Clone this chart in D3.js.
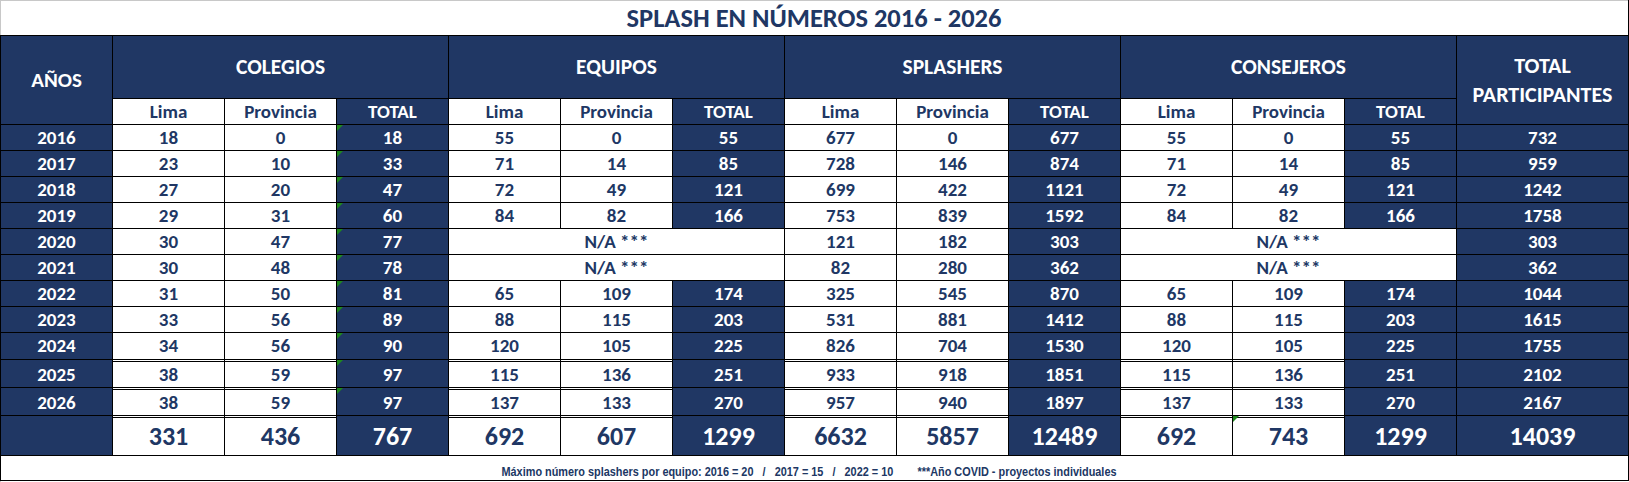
<!DOCTYPE html>
<html>
<head>
<meta charset="utf-8">
<script src="https://cdn.jsdelivr.net/npm/d3@7"></script>
<style>
  body { margin: 0; background: #fff; }
  svg { display: block; }
  text { font-family: Carlito, Lato, sans-serif; font-weight: 700; }
  .note { font-family: "Liberation Sans Narrow", "Arial Narrow", "Liberation Sans", sans-serif; }
</style>
</head>
<body>
<div id="chart"></div>
<script>
// table values
const years = [2016, 2017, 2018, 2019, 2020, 2021, 2022, 2023, 2024, 2025, 2026]
const groups = ["COLEGIOS", "EQUIPOS", "SPLASHERS", "CONSEJEROS"]
const subHeads = ["Lima", "Provincia", "TOTAL"]

const colegiosLima  = [18, 23, 27, 29, 30, 30, 31, 33, 34, 38, 38]
const colegiosProv  = [0, 10, 20, 31, 47, 48, 50, 56, 56, 59, 59]
const colegiosTotal = [18, 33, 47, 60, 77, 78, 81, 89, 90, 97, 97]

const equiposLima  = [55, 71, 72, 84, null, null, 65, 88, 120, 115, 137]
const equiposProv  = [0, 14, 49, 82, null, null, 109, 115, 105, 136, 133]
const equiposTotal = [55, 85, 121, 166, null, null, 174, 203, 225, 251, 270]

const splashersLima  = [677, 728, 699, 753, 121, 82, 325, 531, 826, 933, 957]
const splashersProv  = [0, 146, 422, 839, 182, 280, 545, 881, 704, 918, 940]
const splashersTotal = [677, 874, 1121, 1592, 303, 362, 870, 1412, 1530, 1851, 1897]

const consejerosLima  = [55, 71, 72, 84, null, null, 65, 88, 120, 115, 137]
const consejerosProv  = [0, 14, 49, 82, null, null, 109, 115, 105, 136, 133]
const consejerosTotal = [55, 85, 121, 166, null, null, 174, 203, 225, 251, 270]

const totalParticipantes = [732, 959, 1242, 1758, 303, 362, 1044, 1615, 1755, 2102, 2167]

// bottom row as printed in the sheet
const sumRow = [331, 436, 767, 692, 607, 1299, 6632, 5857, 12489, 692, 743, 1299]
const sumParticipantes = 14039

const naLabel = "N/A ***"
const title = "SPLASH EN NÚMEROS 2016 - 2026"
const note = "Máximo número splashers por equipo: 2016 = 20   /   2017 = 15   /   2022 = 10        ***Año COVID - proyectos individuales"

const series = [
  [colegiosLima, colegiosProv, colegiosTotal],
  [equiposLima, equiposProv, equiposTotal],
  [splashersLima, splashersProv, splashersTotal],
  [consejerosLima, consejerosProv, consejerosTotal]
]

const W = 1629, H = 482
const navy = "#203764"
const flag = "#1e8a1e"

const svg = d3.select("#chart").append("svg")
    .attr("width", W)
    .attr("height", H)

// columns: 0 = AÑOS, 1..12 = data, then the wide total column
const x = d3.scaleBand().domain(d3.range(13)).range([0, 1456])
const xr = c => x(c) + x.bandwidth()
const xEnd = 1628
const yRow = d3.scaleLinear().domain([0, years.length]).range([124, 124 + 26 * years.length])
// the last rows have double top borders, so they sit a little lower
const rowTop = i => yRow(i) + (i >= 9 ? 1 + 2 * (i - 9) : 0)
const sumTop = rowTop(years.length), sumBottom = 455, noteBottom = 481

const fsHead = 21.5, fsSub = 19, fsData = 19, fsSum = 26

let cells = []
function cell(x0, x1, y0, y1, dark, label, size, dbl) {
  cells.push({x0, x1, y0, y1, dark, label, size: size || fsData, dbl})
}

// header
cell(x(0), xr(0), 35, 124, true, "AÑOS", 21)
groups.forEach((g, gi) => {
  cell(x(1 + gi * 3), xr(3 + gi * 3), 35, 98, true, g, fsHead)
  subHeads.forEach((s, si) => {
    let c = 1 + gi * 3 + si
    cell(x(c), xr(c), 98, 124, si == 2, s, fsSub)
  })
})
cell(1456, xEnd, 35, 124, true, null)

// body
years.forEach((yr, i) => {
  let y0 = rowTop(i), y1 = rowTop(i + 1), dbl = i >= 9
  cell(x(0), xr(0), y0, y1, true, yr, fsData, dbl)
  series.forEach((grp, gi) => {
    if (grp[0][i] == null) {
      cell(x(1 + gi * 3), xr(3 + gi * 3), y0, y1, false, naLabel, fsData, dbl)
      return
    }
    grp.forEach((vals, si) => {
      let c = 1 + gi * 3 + si
      cell(x(c), xr(c), y0, y1, si == 2, vals[i], fsData, dbl)
    })
  })
  cell(1456, xEnd, y0, y1, true, totalParticipantes[i], fsData, dbl)
})

// totals row
cell(x(0), xr(0), sumTop, sumBottom, true, null, fsSum, true)
sumRow.forEach((v, k) => {
  let c = k + 1
  cell(x(c), xr(c), sumTop, sumBottom, k % 3 == 2, v, fsSum, true)
})
cell(1456, xEnd, sumTop, sumBottom, true, sumParticipantes, fsSum, true)

// outer frame + title
svg.append("rect")
    .attr("x", 0).attr("y", 0).attr("width", W).attr("height", H)
    .attr("fill", "#fff")
svg.append("line")
    .attr("x1", 0).attr("x2", W).attr("y1", 0.5).attr("y2", 0.5)
    .attr("stroke", "#c8c8c8")
svg.append("line")
    .attr("x1", 0.5).attr("x2", 0.5).attr("y1", 0).attr("y2", H)
    .attr("stroke", "#c8c8c8")
svg.append("line")
    .attr("x1", xEnd + 0.5).attr("x2", xEnd + 0.5).attr("y1", 0).attr("y2", 35)
    .attr("stroke", "#000")
svg.append("text")
    .attr("x", xEnd / 2).attr("y", 27)
    .attr("text-anchor", "middle")
    .attr("font-size", 26.5)
    .attr("fill", navy)
    .text(title)

let g = svg.append("g").attr("shape-rendering", "crispEdges")

g.selectAll("rect.cell")
  .data(cells)
  .join("rect")
    .attr("class", "cell")
    .attr("x", d => d.x0 + 0.5)
    .attr("y", d => d.y0 + 0.5)
    .attr("width", d => d.x1 - d.x0)
    .attr("height", d => d.y1 - d.y0)
    .attr("fill", d => d.dark ? navy : "#fff")
    .attr("stroke", "#000")
    .attr("stroke-width", 1)

// second line of the double borders on white cells
g.selectAll("line.dbl")
  .data(cells.filter(d => d.dbl && !d.dark))
  .join("line")
    .attr("class", "dbl")
    .attr("x1", d => d.x0 + 0.5).attr("x2", d => d.x1 + 0.5)
    .attr("y1", d => d.y0 + 2.5).attr("y2", d => d.y0 + 2.5)
    .attr("stroke", "#000")

svg.selectAll("text.val")
  .data(cells.filter(d => d.label != null))
  .join("text")
    .attr("class", "val")
    .attr("x", d => (d.x0 + d.x1) / 2 + 0.5)
    .attr("y", d => (d.y0 + d.y1) / 2 + (d.dbl ? 1 : 0))
    .attr("dy", "0.36em")
    .attr("text-anchor", "middle")
    .attr("font-size", d => d.size)
    .attr("fill", d => d.dark ? "#fff" : navy)
    .text(d => d.label)

// TOTAL PARTICIPANTES, two lines
svg.append("text")
    .attr("x", (1456 + xEnd) / 2)
    .attr("text-anchor", "middle")
    .attr("font-size", 22)
    .attr("fill", "#fff")
  .selectAll("tspan")
  .data(["TOTAL", "PARTICIPANTES"])
  .join("tspan")
    .attr("x", (1456 + xEnd) / 2 + 0.5)
    .attr("y", (d, i) => 73 + i * 29)
    .text(d => d)

// green error flags (formula warnings in the sheet)
let flags = years.map((yr, i) => ({x: x(3), y: rowTop(i)}))
flags.push({x: x(11), y: sumTop})
svg.selectAll("path.flag")
  .data(flags)
  .join("path")
    .attr("class", "flag")
    .attr("d", d => `M${d.x + 1},${d.y + 1}h6l-6,6z`)
    .attr("fill", flag)

// footnote row
g.append("rect")
    .attr("x", 0.5).attr("y", sumBottom + 0.5)
    .attr("width", xEnd).attr("height", noteBottom - sumBottom - 1)
    .attr("fill", "#fff")
    .attr("stroke", "#000")
svg.append("text")
    .attr("class", "note")
    .attr("x", 809).attr("y", 476)
    .attr("text-anchor", "middle")
    .attr("font-size", 13)
    .attr("fill", navy)
    .attr("textLength", 615)
    .attr("lengthAdjust", "spacingAndGlyphs")
    .style("white-space", "pre")
    .text(note)
</script>
</body>
</html>
